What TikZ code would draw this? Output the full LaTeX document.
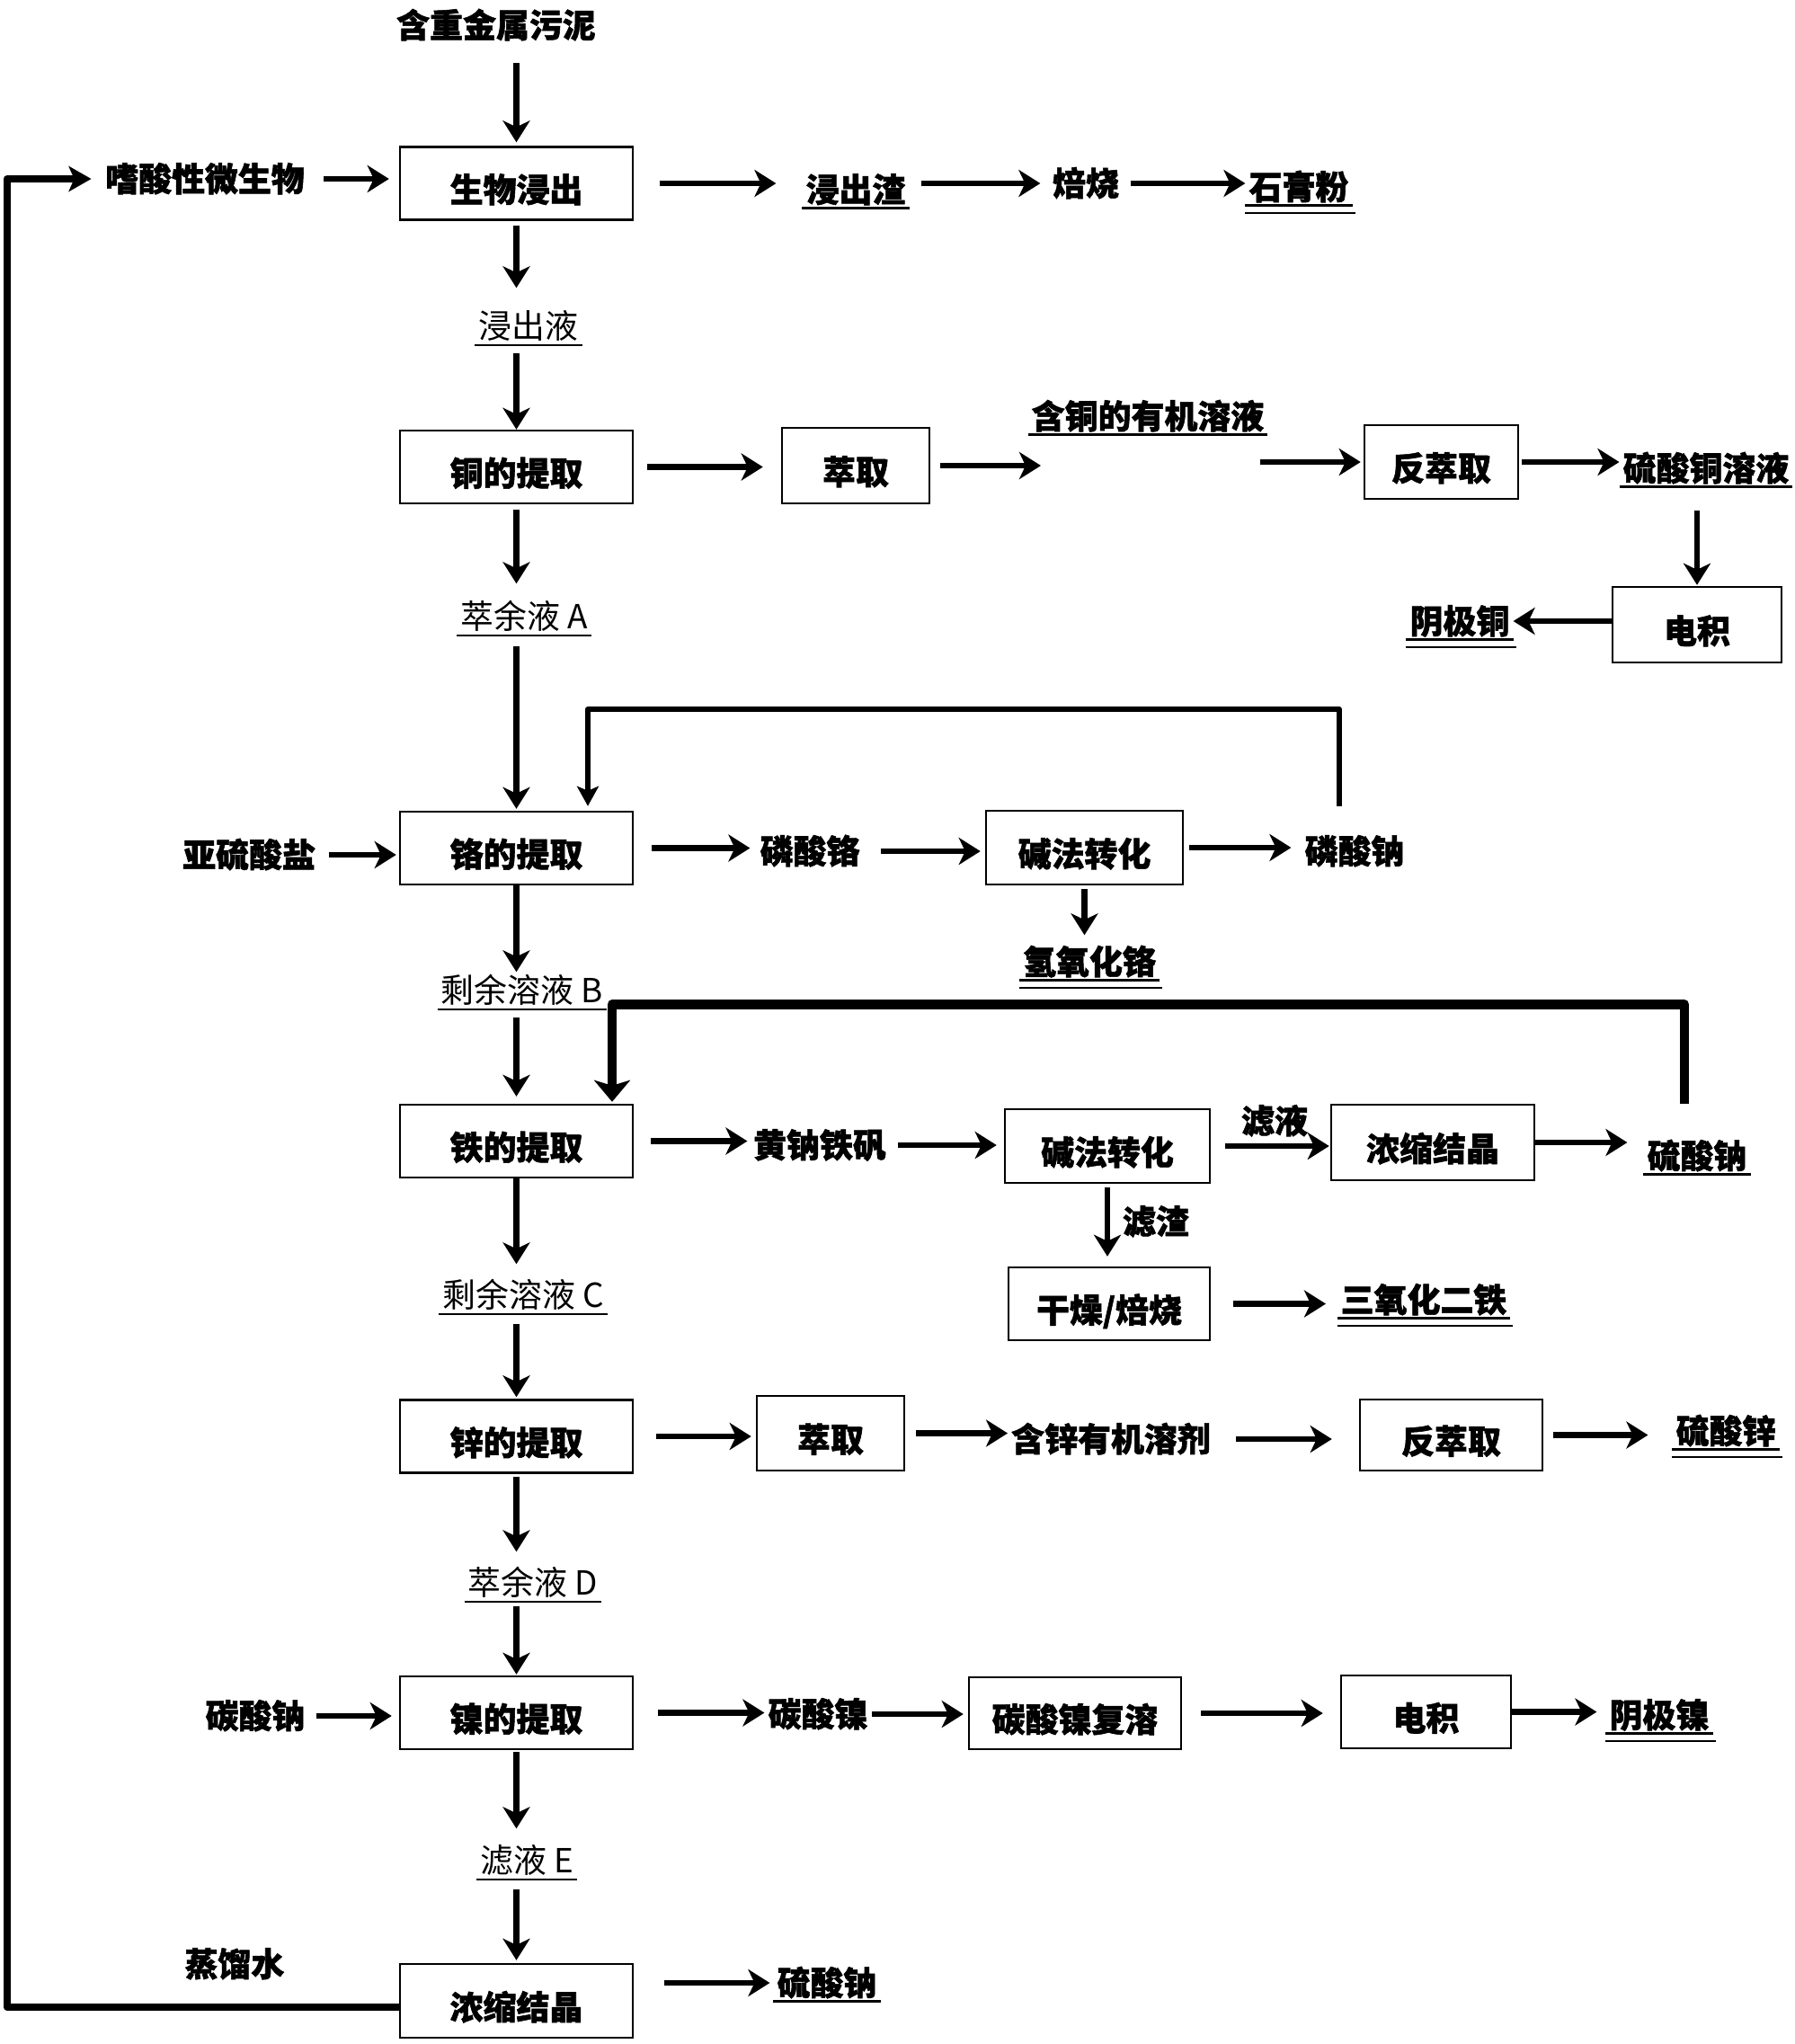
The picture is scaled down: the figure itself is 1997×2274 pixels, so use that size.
\documentclass[tikz,border=0pt]{standalone}
\usepackage{fontspec}
\newfontfamily\cjk{Noto Sans CJK SC}[BoldFeatures={FakeBold=1.5}]
\usepackage{tikz}
\usetikzlibrary{arrows.meta}
\tikzset{
x=0.1mm, y=-0.1mm,
box/.style={draw=black, line width=0.7pt, font=\fontsize{10.5}{12}\selectfont\cjk\bfseries, text height=4.6mm, text depth=0.45mm},
mainbox/.style={box, minimum width=25.9mm, minimum height=8.1mm},
lab/.style={font=\fontsize{10.5}{12}\selectfont\cjk\bfseries, inner xsep=1pt, inner ysep=0.5pt, text height=3.2mm, text depth=0.45mm},
note/.style={lab, font=\fontsize{10.5}{12}\selectfont\cjk},
ul/.style={append after command={(\tikzlastnode.south west) edge[draw, line width=#1] (\tikzlastnode.south east)}},
ul/.default=0.85pt,
uul/.style={ul, append after command={([yshift=-0.8mm]\tikzlastnode.south west) edge[draw, line width=0.5pt] ([xshift=0.3mm,yshift=-0.8mm]\tikzlastnode.south east)}},
arr/.style={line width=1.9pt, -{Stealth[length=2.4mm, width=3mm, inset=0.7mm]}},
fbthin/.style={line width=1.7pt, line join=round, -{Stealth[length=2.2mm, width=2.4mm, inset=0.5mm]}},
fbthick/.style={line width=3pt, line join=round, -{Stealth[length=2.4mm, width=4mm, inset=0.6mm]}},
loop/.style={line width=2.3pt, line join=round, -{Stealth[length=2.5mm, width=2.8mm, inset=0.6mm]}},
}

\begin{document}
\begin{tikzpicture}
\useasboundingbox (0,0) rectangle (1997,2274);
\path[fill=white] (0,0) rectangle (1997,2274);

\node[lab] (sludge) at (552,28) {含重金属污泥};
\node[mainbox] (bio) at (574.5,204) {生物浸出};
\node[lab] (microbe) at (228,199) {嗜酸性微生物};
\node[lab, ul] (residue) at (952,211) {浸出渣};
\node[lab] (roast) at (1208,204) {焙烧};
\node[lab, uul] (gypsum) at (1445,208) {石膏粉};
\node[note, ul=0.6pt] (leach) at (588,363) {浸出液};
\node[mainbox] (cu) at (574.5,519.5) {铜的提取};
\node[box, minimum width=16.4mm, minimum height=8.4mm] (cuext) at (952,518) {萃取};
\node[lab, ul] (cuorg) at (1277,463) {含铜的有机溶液};
\coordinate (cuorgin) at (1158,517);
\coordinate (cuorgout) at (1402,514);
\node[box, minimum width=17.1mm, minimum height=8.2mm] (custrip) at (1603.5,514) {反萃取};
\node[lab, ul] (cuso) at (1898,521) {硫酸铜溶液};
\node[box, minimum width=18.8mm, minimum height=8.4mm] (cuew) at (1888,695) {电积};
\node[lab, uul] (cucath) at (1624,691) {阴极铜};
\node[note, ul=0.6pt] (rafA) at (583,686) {萃余液 A};

\node[mainbox] (cr) at (574.5,943.5) {铬的提取};
\node[lab] (sulfite) at (277,951) {亚硫酸盐};
\node[lab] (crpo) at (901,947) {磷酸铬};
\node[box, minimum width=21.9mm, minimum height=8.2mm] (crconv) at (1206.5,943) {碱法转化};
\node[lab] (napo) at (1507,947) {磷酸钠};
\node[lab, uul] (croh) at (1212,1070) {氢氧化铬};
\node[note, ul=0.6pt] (solB) at (581,1102) {剩余溶液 B};

\node[mainbox] (fe) at (574.5,1269.5) {铁的提取};
\node[lab] (jaro) at (912,1274) {黄钠铁矾};
\node[box, minimum width=22.8mm, minimum height=8.2mm] (feconv) at (1232,1275) {碱法转化};
\node[lab] (filt) at (1418,1247) {滤液};
\node[box, minimum width=22.6mm, minimum height=8.4mm] (fecry) at (1594,1271) {浓缩结晶};
\node[lab, ul] (naso) at (1888,1286) {硫酸钠};
\node[lab] (resid) at (1286,1359) {滤渣};
\node[box, minimum width=22.4mm, minimum height=8.1mm] (fedry) at (1234,1450.5) {干燥/焙烧};
\node[lab, uul] (feox) at (1584,1446) {三氧化二铁};
\node[note, ul=0.6pt] (solC) at (582,1441) {剩余溶液 C};

\node[mainbox] (zn) at (574.5,1598) {锌的提取};
\node[box, minimum width=16.4mm, minimum height=8.3mm] (znext) at (924,1594.5) {萃取};
\node[lab] (znorg) at (1236,1601) {含锌有机溶剂};
\node[box, minimum width=20.3mm, minimum height=7.9mm] (znstrip) at (1614.5,1596.5) {反萃取};
\node[lab, uul] (znso) at (1920,1592) {硫酸锌};
\node[note, ul=0.6pt] (rafD) at (593,1761) {萃余液 D};

\node[mainbox] (ni) at (574.5,1905.5) {镍的提取};
\node[lab] (naco) at (284,1909) {碳酸钠};
\node[lab] (nico) at (910,1907) {碳酸镍};
\node[box, minimum width=23.6mm, minimum height=8mm] (nidis) at (1196,1906) {碳酸镍复溶};
\node[box, minimum width=18.9mm, minimum height=8.1mm] (niew) at (1586.5,1904.5) {电积};
\node[lab, uul] (nicath) at (1846,1908) {阴极镍};
\node[note, ul=0.6pt] (filtE) at (586,2070) {滤液 E};

\node[mainbox, minimum height=8.2mm] (cry) at (574.5,2226) {浓缩结晶};
\node[lab] (water) at (261,2185) {蒸馏水};
\node[lab, ul] (naso2) at (920,2206) {硫酸钠};

\draw[arr, shorten <=2.1mm, shorten >=0.4mm] (sludge.south -| bio) -- (bio.north);
\draw[arr, shorten <=0.5mm, shorten >=2.2mm] (bio.south) -- (bio.south |- leach.north);
\draw[arr, shorten <=0.9mm] (leach.south -| cu) -- (cu.north);
\draw[arr, shorten <=0.6mm, shorten >=1.6mm] (cu.south) -- (cu.south |- rafA.north);
\draw[arr, shorten <=1.2mm, shorten >=0.2mm] (rafA.south -| cr) -- (cr.north);
\draw[arr] (cr.south) -- (cr.south |- solB.north);
\draw[arr, shorten <=0.9mm, shorten >=0.8mm] (solB.south -| fe) -- (fe.north);
\draw[arr, shorten >=1.4mm] (fe.south) -- (fe.south |- solC.north);
\draw[arr, shorten <=1.1mm, shorten >=0.2mm] (solC.south -| zn) -- (zn.north);
\draw[arr, shorten <=0.3mm, shorten >=1.4mm] (zn.south) -- (zn.south |- rafD.north);
\draw[arr, shorten <=0.5mm, shorten >=0.1mm] (rafD.south -| ni) -- (ni.north);
\draw[arr, shorten <=0.2mm, shorten >=1.5mm] (ni.south) -- (ni.south |- filtE.north);
\draw[arr, shorten <=1.1mm, shorten >=0.3mm] (filtE.south -| cry) -- (cry.north);

\draw[arr, shorten <=1.75mm, shorten >=1.1mm] (microbe.east) -- (microbe.east -| bio.west);
\draw[arr, shorten <=2.9mm, shorten >=2.9mm] (bio.east) -- (bio.east -| residue.west);
\draw[arr, shorten <=1.3mm, shorten >=0.95mm] (residue.east |- roast) -- (roast.west);
\draw[arr, shorten <=0.85mm] (roast.east) -- (roast.east -| gypsum.west);
\draw[arr, shorten <=1.5mm, shorten >=2mm] (cu.east) -- (cu.east -| cuext.west);
\draw[arr, shorten <=1.1mm] (cuext.east) -- (cuext.east -| cuorgin);
\draw[arr, shorten >=0.3mm] (cuorgout) -- (custrip.west);
\draw[arr, shorten <=0.3mm] (custrip.east) -- (custrip.east -| cuso.west);
\draw[arr, shorten <=2.6mm, shorten >=0.1mm] (cuso.south -| cuew) -- (cuew.north);
\draw[arr] (cuew.west |- cucath) -- (cucath.east);

\draw[arr, shorten <=1.05mm, shorten >=0.3mm] (sulfite.east) -- (sulfite.east -| cr.west);
\draw[arr, shorten <=2mm, shorten >=0.7mm] (cr.east) -- (cr.east -| crpo.west);
\draw[arr, shorten <=1.9mm, shorten >=0.5mm] (crpo.east) -- (crpo.east -| crconv.west);
\draw[arr, shorten <=0.6mm, shorten >=1.1mm] (crconv.east) -- (crconv.east -| napo.west);
\draw[arr, shorten <=0.4mm, shorten >=0.9mm] (crconv.south) -- (crconv.south |- croh.north);
\draw[fbthin, shorten <=2.9mm, shorten >=0.5mm] ([xshift=-1.7mm]napo.north) -- ++(0,-137) -| ([xshift=7.95mm]cr.north);

\draw[arr, shorten <=1.9mm, shorten >=0.25mm] (fe.east) -- (fe.east -| jaro.west);
\draw[arr, shorten <=0.85mm, shorten >=0.8mm] (jaro.east) -- (jaro.east -| feconv.west);
\draw[arr, shorten <=1.6mm, shorten >=0.1mm] (feconv.east) -- (feconv.east -| fecry.west);
\draw[arr, shorten >=1.8mm] (fecry.east) -- (fecry.east -| naso.west);
\draw[fbthick, shorten <=3.7mm, shorten >=0.2mm] ([xshift=-1.4mm]naso.north) -- ++(0,-148) -| ([xshift=10.65mm]fe.north);
\draw[arr, shorten <=0.4mm, shorten >=1.1mm] (feconv.south) -- (feconv.south |- fedry.north);
\draw[arr, shorten <=2.5mm, shorten >=1.25mm] (fedry.east) -- (fedry.east -| feox.west);

\draw[arr, shorten <=2.5mm, shorten >=0.5mm] (zn.east) -- (zn.east -| znext.west);
\draw[arr, shorten <=1.2mm] (znext.east) -- (znext.east -| znorg.west);
\draw[arr, shorten <=2.45mm, shorten >=3mm] (znorg.east) -- (znorg.east -| znstrip.west);
\draw[arr, shorten <=1.1mm, shorten >=2.7mm] (znstrip.east) -- (znstrip.east -| znso.west);

\draw[arr, shorten <=0.8mm, shorten >=0.8mm] (naco.east) -- (naco.east -| ni.west);
\draw[arr, shorten <=2.7mm] (ni.east) -- (ni.east -| nico.west);
\draw[arr, shorten >=0.5mm] (nico.east) -- (nico.east -| nidis.west);
\draw[arr, shorten <=2.1mm, shorten >=1.9mm] (nidis.east) -- (nidis.east -| niew.west);
\draw[arr, shorten >=1mm] (niew.east) -- (niew.east -| nicath.west);

\draw[arr, shorten <=3.4mm, shorten >=0.4mm] (cry.east |- naso2) -- (naso2.west);
\draw[loop, shorten >=1.15mm] ([yshift=-0.7mm]cry.west) -- ++(-436,0) |- (microbe.west);
\end{tikzpicture}
\end{document}
